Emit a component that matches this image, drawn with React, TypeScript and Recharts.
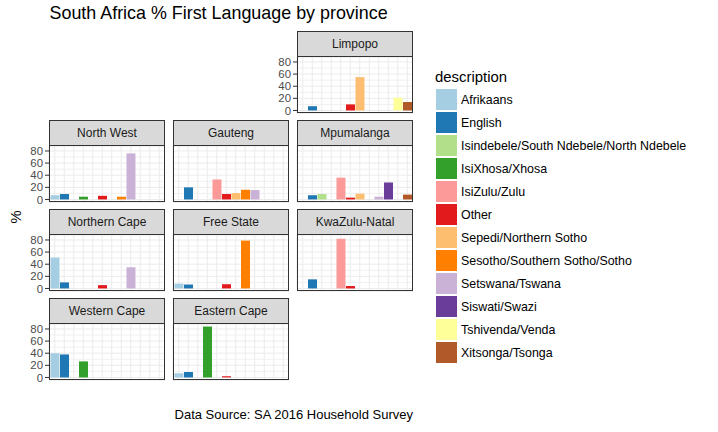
import React from 'react';
import { Bar, BarChart, CartesianGrid, Cell, XAxis, YAxis } from 'recharts';

// categories, in legend order
const languages = [
  'Afrikaans',
  'English',
  'Isindebele/South Ndebele/North Ndebele',
  'IsiXhosa/Xhosa',
  'IsiZulu/Zulu',
  'Other',
  'Sepedi/Northern Sotho',
  'Sesotho/Southern Sotho/Sotho',
  'Setswana/Tswana',
  'Siswati/Swazi',
  'Tshivenda/Venda',
  'Xitsonga/Tsonga',
];

// % first language, one value per language above
const limpopo = [0, 7, 0, 0, 0, 10, 55, 0, 0, 0, 21, 14];
const northWest = [7, 9, 0, 4.5, 0, 6, 0, 4.5, 76, 0, 0, 0];
const gauteng = [0, 20, 0, 0, 33, 9, 10.5, 16, 15.5, 0, 0, 0];
const mpumalanga = [0, 7, 9, 0, 36, 3, 9.5, 0, 4.5, 28, 0, 8];
const northernCape = [51, 10, 0, 0, 0, 5.5, 0, 0, 35, 0, 0, 0];
const freeState = [8, 6.5, 0, 0, 0, 7, 0, 79, 0, 0, 0, 0];
const kwaZuluNatal = [0, 15, 0, 0, 82, 4, 0, 0, 0, 0, 0, 0];
const westernCape = [40, 38, 0, 26.5, 0, 0, 0, 0, 0, 0, 0, 0];
const easternCape = [7, 9, 0, 84, 0, 2, 0, 0, 0, 0, 0, 0];

const majorTicks = [0, 20, 40, 60, 80];
const minorTicks = [10, 30, 50, 70];

const palette = [
  '#A6CEE3', '#1F78B4', '#B2DF8A', '#33A02C', '#FB9A99', '#E31A1C',
  '#FDBF6F', '#FF7F00', '#CAB2D6', '#6A3D9A', '#FFFF99', '#B15928',
];

const FONT = "'Liberation Sans', Arial, Helvetica, sans-serif";
const PANEL_W = 116;
const STRIP_H = 26;
const PLOT_H = 56;
const AXIS_W = 30;
const PAD = 8; // room above/below the plot so tick labels are not clipped
const colLeft = [49, 173, 297];
const rowTop = [31, 120, 209, 298];
const yDomain: [number, number] = [-4.2, 88.2];

const panels = [
  { name: 'Limpopo', values: limpopo, row: 0, col: 2, axis: true },
  { name: 'North West', values: northWest, row: 1, col: 0, axis: true },
  { name: 'Gauteng', values: gauteng, row: 1, col: 1, axis: false },
  { name: 'Mpumalanga', values: mpumalanga, row: 1, col: 2, axis: false },
  { name: 'Northern Cape', values: northernCape, row: 2, col: 0, axis: true },
  { name: 'Free State', values: freeState, row: 2, col: 1, axis: false },
  { name: 'KwaZulu-Natal', values: kwaZuluNatal, row: 2, col: 2, axis: false },
  { name: 'Western Cape', values: westernCape, row: 3, col: 0, axis: true },
  { name: 'Eastern Cape', values: easternCape, row: 3, col: 1, axis: false },
];

// ticks must exist for the grid, but draw nothing
const NoTick = () => <g />;

interface PanelProps {
  name: string;
  values: number[];
  row: number;
  col: number;
  axis: boolean;
}

const Panel = ({ name, values, row, col, axis }: PanelProps) => {
  const left = colLeft[col];
  const top = rowTop[row];
  const data = languages.map((lang, i) => ({ name: lang, value: values[i] }));
  return (
    <>
      {/* strip */}
      <div
        style={{
          position: 'absolute',
          left,
          top,
          width: PANEL_W,
          height: STRIP_H,
          background: '#D9D9D9',
          border: '1px solid #333333',
          boxSizing: 'border-box',
          display: 'flex',
          alignItems: 'center',
          justifyContent: 'center',
          fontSize: 12,
          color: '#1A1A1A',
        }}
      >
        {name}
      </div>

      <div style={{ position: 'absolute', left: left - AXIS_W, top: top + STRIP_H - PAD }}>
        <BarChart
          width={PANEL_W + AXIS_W}
          height={PLOT_H + 2 * PAD}
          data={data}
          margin={{ top: PAD, right: 0, bottom: PAD, left: 0 }}
          barCategoryGap="5%"
        >
          <CartesianGrid yAxisId="minor" vertical={false} stroke="#F0F0F0" />
          <CartesianGrid stroke="#EBEBEB" />
          <XAxis
            dataKey="name"
            height={0}
            interval={0}
            tick={NoTick}
            tickLine={false}
            axisLine={false}
            padding={{ left: 1, right: 1 }}
          />
          <YAxis
            yAxisId="minor"
            width={0}
            type="number"
            domain={yDomain}
            ticks={minorTicks}
            interval={0}
            allowDataOverflow
            tick={NoTick}
            tickLine={false}
            axisLine={false}
          />
          <YAxis
            width={AXIS_W}
            type="number"
            domain={yDomain}
            ticks={majorTicks}
            allowDataOverflow
            interval={0}
            axisLine={false}
            tickSize={4}
            tickMargin={2}
            tickLine={axis ? { stroke: '#333333' } : false}
            tick={axis ? { fill: '#4D4D4D', fontSize: 11.4, fontFamily: FONT } : NoTick}
          />
          <Bar dataKey="value" isAnimationActive={false}>
            {data.map((d, i) => (
              <Cell key={d.name} fill={palette[i]} />
            ))}
          </Bar>
        </BarChart>
      </div>

      {/* panel border */}
      <div
        style={{
          position: 'absolute',
          left,
          top: top + STRIP_H - 1,
          width: PANEL_W,
          height: PLOT_H + 1,
          border: '1px solid #333333',
          boxSizing: 'border-box',
          pointerEvents: 'none',
        }}
      />
    </>
  );
};

const App = () => {
  return (
    <div
      style={{
        position: 'absolute',
        left: 0,
        top: 0,
        width: 718,
        height: 432,
        background: '#FFFFFF',
        fontFamily: FONT,
        overflow: 'hidden',
      }}
    >
      {/* Title */}
      <div style={{ position: 'absolute', left: 49.5, top: 5, fontSize: 17.9, lineHeight: 1, color: '#000000' }}>
        South Africa % First Language by province
      </div>

      {/* y axis title */}
      <div
        style={{
          position: 'absolute',
          left: 16,
          top: 217,
          fontSize: 14.7,
          lineHeight: 1,
          color: '#000000',
          transform: 'translate(-50%, -50%) rotate(-90deg)',
        }}
      >
        %
      </div>

      {panels.map((p) => (
        <Panel key={p.name} {...p} />
      ))}

      {/* Legend */}
      <div style={{ position: 'absolute', left: 435, top: 70.3, fontSize: 14.9, lineHeight: 1, color: '#000000' }}>
        description
      </div>
      {languages.map((lang, i) => (
        <div
          key={lang}
          style={{
            position: 'absolute',
            left: 436,
            top: 89 + i * 23.04,
            height: 21,
            display: 'flex',
            alignItems: 'center',
          }}
        >
          <div style={{ width: 21, height: 21, background: palette[i] }} />
          <div style={{ marginLeft: 4, fontSize: 12.4, color: '#000000', whiteSpace: 'nowrap' }}>{lang}</div>
        </div>
      ))}

      {/* Caption */}
      <div
        style={{
          position: 'absolute',
          left: 0,
          width: 413,
          top: 408,
          textAlign: 'right',
          fontSize: 13,
          lineHeight: 1,
          color: '#000000',
        }}
      >
        Data Source: SA 2016 Household Survey
      </div>
    </div>
  );
};

export default App;
